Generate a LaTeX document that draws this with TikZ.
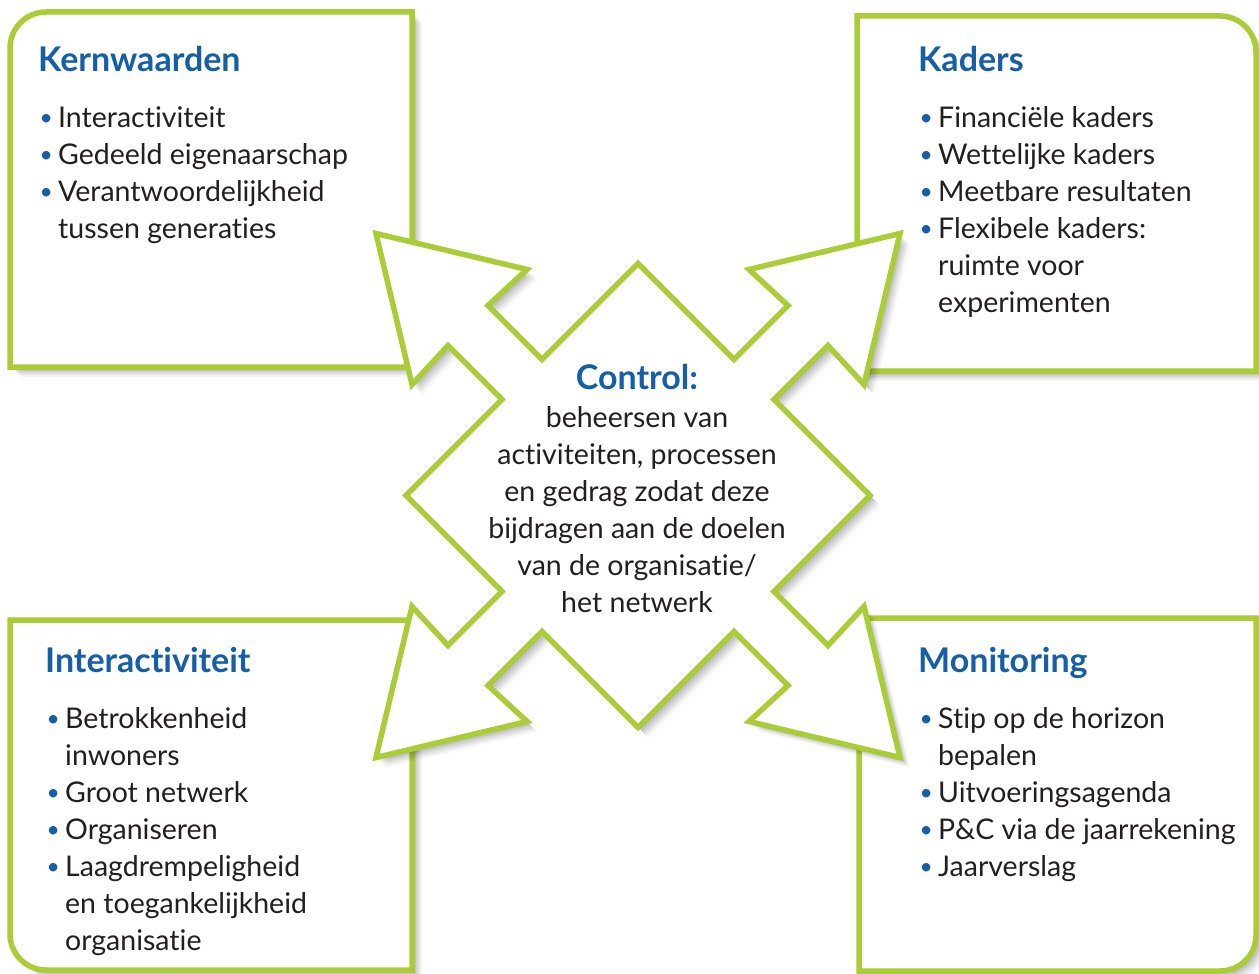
\documentclass[tikz,border=0pt]{standalone}
\usepackage{fontspec}
\setmainfont{Lato}[Ligatures=NoCommon]
\usetikzlibrary{shadows}

\definecolor{kadergroen}{RGB}{170,204,55}
\definecolor{kopblauw}{RGB}{21,94,168}
\definecolor{tekstgrijs}{RGB}{35,31,32}

\newcommand{\bul}{\makebox[20pt][l]{\hspace{1.5pt}\raisebox{1.5pt}{\scalebox{.8}{\textcolor{kopblauw}{\textbullet}}}}}
\newcommand{\ins}{\hspace*{20pt}}
\newcommand{\kop}[1]{{\fontsize{34}{37}\selectfont\bfseries\color{kopblauw}#1}}
% one arm of the star, turned by #1
\newcommand{\pijlarm}[1]{-- ([rotate=#1]-96,136) -- ([rotate=#1]-150,190) -- ([rotate=#1]-111,226) -- ([rotate=#1]-262,262) -- ([rotate=#1]-226,111) -- ([rotate=#1]-190,150) -- ([rotate=#1]-136,96)}

\tikzset{
  softshadow/.style={
    drop shadow={shadow xshift=2pt,shadow yshift=-2pt,opacity=.09,fill=black},
    drop shadow={shadow xshift=4pt,shadow yshift=-4pt,opacity=.08,fill=black},
    drop shadow={shadow xshift=6pt,shadow yshift=-6pt,opacity=.07,fill=black},
    drop shadow={shadow xshift=8pt,shadow yshift=-8pt,opacity=.06,fill=black},
    drop shadow={shadow xshift=10pt,shadow yshift=-10pt,opacity=.04,fill=black}},
  kader/.style={draw=kadergroen, line width=5.5pt, fill=white, miter limit=10, softshadow},
  tekst/.style={anchor=north west, inner sep=0pt, align=left, text=tekstgrijs,
    font=\fontsize{28.5}{37}\selectfont},
}

\begin{document}
\begin{tikzpicture}[x=1pt,y=1pt]
  \useasboundingbox[fill=white] (0,0) rectangle (1259,-974);

  % boxes
  \draw[kader] (412,-367) -- (10,-367) -- (10,-48) arc[start angle=180,end angle=90,radius=36] -- (412,-12) -- cycle;
  \draw[kader] (857,-371) -- (857,-16) -- (1220,-16) arc[start angle=90,end angle=0,radius=36] -- (1256,-371) -- cycle;
  \draw[kader] (10,-620) -- (412,-620) -- (412,-970) -- (46,-970) arc[start angle=270,end angle=180,radius=36] -- cycle;
  \draw[kader] (859,-618) -- (1256,-618) -- (1256,-935) arc[start angle=0,end angle=-90,radius=36] -- (859,-971) -- cycle;

  % star with four arrows
  \begin{scope}[shift={(638,-495.5)}]
    \draw[kader] (0,232) \pijlarm{0} -- (-232,0) \pijlarm{90} -- (0,-232) \pijlarm{180} -- (232,0) \pijlarm{270} -- cycle;
  \end{scope}

  \node[tekst] (kern) at (38,-46) {\kop{Kernwaarden}\\[19pt]
    \bul Interactiviteit\\ \bul Gedeeld eigenaarschap\\ \bul Verantwoordelijkheid\\ \ins tussen generaties};
  \node[tekst] (kaders) at (918,-46) {\kop{Kaders}\\[19pt]
    \bul Financiële kaders\\ \bul Wettelijke kaders\\ \bul Meetbare resultaten\\ \bul Flexibele kaders:\\ \ins ruimte voor\\ \ins experimenten};
  \node[tekst] (inter) at (45,-647) {\kop{Interactiviteit}\\[19pt]
    \bul Betrokkenheid\\ \ins inwoners\\ \bul Groot netwerk\\ \bul Organiseren\\ \bul Laagdrempeligheid\\ \ins en toegankelijkheid\\ \ins organisatie};
  \node[tekst] (monitor) at (918,-647) {\kop{Monitoring}\\[19pt]
    \bul Stip op de horizon\\ \ins bepalen\\ \bul Uitvoeringsagenda\\ \bul P\&C via de jaarrekening\\ \bul Jaarverslag};

  \node[tekst, anchor=north, align=center] (control) at (637,-364) {\kop{Control:}\\[1pt]
    beheersen van\\ activiteiten, processen\\ en gedrag zodat deze\\ bijdragen aan de doelen\\ van de organisatie/\\ het netwerk};
\end{tikzpicture}
\end{document}
